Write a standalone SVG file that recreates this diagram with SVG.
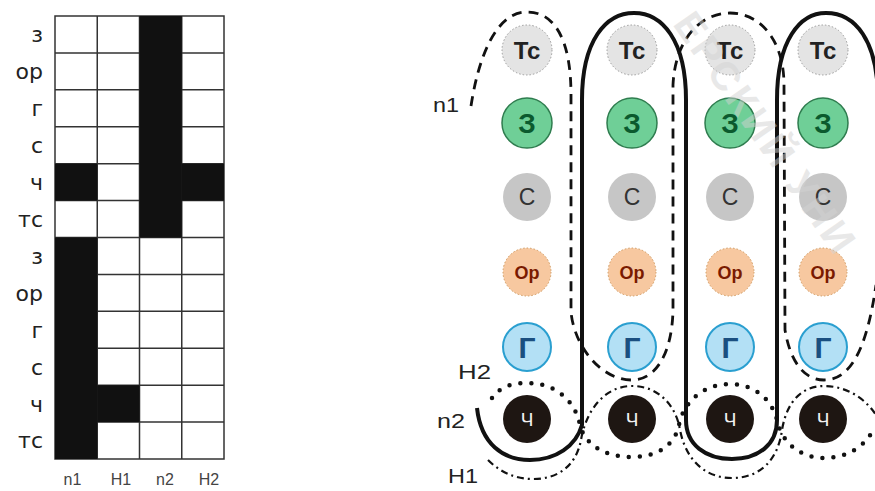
<svg xmlns="http://www.w3.org/2000/svg" width="875" height="491" viewBox="0 0 875 491">
<defs>
<style>
.lbl{font-family:"DejaVu Sans",sans-serif;font-size:22px;fill:#222;text-anchor:end}
.blbl{font-family:"Liberation Sans",Arial,sans-serif;font-size:16px;fill:#444;text-anchor:middle}
.rlbl{font-family:"Liberation Sans",Arial,sans-serif;font-size:21px;fill:#222}
.grid{stroke:#333;stroke-width:1.5;fill:none}
.blk{fill:#111}
.t{font-family:"Liberation Sans",Arial,sans-serif;text-anchor:middle}
.tc circle{fill:#e4e4e4;stroke:#9a9a9a;stroke-width:1;stroke-dasharray:1.5 2}
.tc text{font-size:24px;font-weight:bold;fill:#222}
.z circle{fill:#6fcf97;stroke:#2f7d4f;stroke-width:1.5}
.z text{font-size:28px;font-weight:bold;fill:#0b5a2e}
.s circle{fill:#c6c6c6}
.s text{font-size:23px;fill:#333}
.op circle{fill:#f7c8a0;stroke:#d09a60;stroke-width:1;stroke-dasharray:1.5 2}
.op text{font-size:18px;font-weight:bold;fill:#7a1a00}
.g circle{fill:#b3e0f5;stroke:#2a9fd0;stroke-width:2}
.g text{font-size:30px;font-weight:bold;fill:#1a4f80}
.ch circle{fill:#1e1612}
.ch text{font-size:19px;fill:#f2f2f2}
.n1{fill:none;stroke:#111;stroke-width:2.8;stroke-dasharray:10 7}
.n2{fill:none;stroke:#111;stroke-width:4}
.h2{fill:none;stroke:#111;stroke-width:4.5;stroke-dasharray:0 11;stroke-linecap:round}
.h1{fill:none;stroke:#111;stroke-width:2.2;stroke-dasharray:7 4 2 4}
</style>
</defs>
<rect width="875" height="491" fill="#fff"/>
<g id="table">
<g class="grid">
<rect x="55" y="16" width="169" height="443"/>
<path d="M97.25 16V459M139.5 16V459M181.75 16V459"/>
<path d="M55 52.9H224M55 89.8H224M55 126.8H224M55 163.7H224M55 200.6H224M55 237.5H224M55 274.4H224M55 311.3H224M55 348.2H224M55 385.2H224M55 422.1H224"/>
</g>
<rect class="blk" x="139.5" y="16" width="42.25" height="221.5"/>
<rect class="blk" x="55" y="163.7" width="42.25" height="36.9"/>
<rect class="blk" x="181.75" y="163.7" width="42.25" height="36.9"/>
<rect class="blk" x="55" y="237.5" width="42.25" height="221.5"/>
<rect class="blk" x="97.25" y="385.2" width="42.25" height="36.9"/>
<text class="lbl" x="43" y="42">з</text>
<text class="lbl" x="43" y="79">ор</text>
<text class="lbl" x="43" y="116">г</text>
<text class="lbl" x="43" y="153">с</text>
<text class="lbl" x="43" y="190">ч</text>
<text class="lbl" x="43" y="227">тс</text>
<text class="lbl" x="43" y="264">з</text>
<text class="lbl" x="43" y="301">ор</text>
<text class="lbl" x="43" y="338">г</text>
<text class="lbl" x="43" y="375">с</text>
<text class="lbl" x="43" y="412">ч</text>
<text class="lbl" x="43" y="448">тс</text>
<text class="blbl" x="72.5" y="485">n1</text>
<text class="blbl" x="121" y="485">H1</text>
<text class="blbl" x="165" y="485">n2</text>
<text class="blbl" x="209" y="485">H2</text>
</g>
<g id="col1" class="t">
<g id="tc1" class="tc"><circle cx="527" cy="50" r="25"/><text x="527" y="58.5">Тс</text></g>
<g id="z1" class="z"><circle cx="527" cy="123" r="25"/><text x="527" y="133">З</text></g>
<g id="s1" class="s"><circle cx="527" cy="197" r="24"/><text x="527" y="205">С</text></g>
<g id="op1" class="op"><circle cx="527" cy="272" r="24"/><text x="527" y="278.5">Ор</text></g>
<g id="g1" class="g"><circle cx="527" cy="347" r="24"/><text x="527" y="358">Г</text></g>
<g id="ch1" class="ch"><circle cx="527" cy="419" r="24"/><text x="527" y="426">Ч</text></g>
</g>
<g id="col2" class="t">
<g id="tc2" class="tc"><circle cx="632" cy="50" r="25"/><text x="632" y="58.5">Тс</text></g>
<g id="z2" class="z"><circle cx="632" cy="123" r="25"/><text x="632" y="133">З</text></g>
<g id="s2" class="s"><circle cx="632" cy="197" r="24"/><text x="632" y="205">С</text></g>
<g id="op2" class="op"><circle cx="632" cy="272" r="24"/><text x="632" y="278.5">Ор</text></g>
<g id="g2" class="g"><circle cx="632" cy="347" r="24"/><text x="632" y="358">Г</text></g>
<g id="ch2" class="ch"><circle cx="632" cy="419" r="24"/><text x="632" y="426">Ч</text></g>
</g>
<g id="col3" class="t">
<g id="tc3" class="tc"><circle cx="730" cy="50" r="25"/><text x="730" y="58.5">Тс</text></g>
<g id="z3" class="z"><circle cx="730" cy="123" r="25"/><text x="730" y="133">З</text></g>
<g id="s3" class="s"><circle cx="730" cy="197" r="24"/><text x="730" y="205">С</text></g>
<g id="op3" class="op"><circle cx="730" cy="272" r="24"/><text x="730" y="278.5">Ор</text></g>
<g id="g3" class="g"><circle cx="730" cy="347" r="24"/><text x="730" y="358">Г</text></g>
<g id="ch3" class="ch"><circle cx="730" cy="419" r="24"/><text x="730" y="426">Ч</text></g>
</g>
<g id="col4" class="t">
<g id="tc4" class="tc"><circle cx="823" cy="50" r="25"/><text x="823" y="58.5">Тс</text></g>
<g id="z4" class="z"><circle cx="823" cy="123" r="25"/><text x="823" y="133">З</text></g>
<g id="s4" class="s"><circle cx="823" cy="197" r="24"/><text x="823" y="205">С</text></g>
<g id="op4" class="op"><circle cx="823" cy="272" r="24"/><text x="823" y="278.5">Ор</text></g>
<g id="g4" class="g"><circle cx="823" cy="347" r="24"/><text x="823" y="358">Г</text></g>
<g id="ch4" class="ch"><circle cx="823" cy="419" r="24"/><text x="823" y="426">Ч</text></g>
</g>
<g id="connectors">
<path class="n1" d="M471,106 C478,60 495,12 527,12 C555,12 571,40 571,95 L571,312 C574,345 600,380 632,380 C655,380 672,355 673,310 L673,85 C675,40 700,13 730,13 C760,13 784,40 784,85 L785,330 C790,360 803,380 824,380 C848,380 866,355 876,285"/>
<path class="n2" d="M477,408 C481,444 503,460 530,460 C556,460 576,446 582,425 L582,100 C582,40 606,13 634,13 C662,13 686,40 686,100 L686,420 C686,445 706,459 732,459 C758,459 777,445 777,420 L777,100 C777,40 800,13 826,13 C855,13 878,40 878,100 L878,440"/>
<path class="h2" d="M492,398 C500,386 514,383 527,383 C555,383 575,400 580,425 C585,445 605,457 632,457 C657,457 675,445 679,425 C684,400 705,384 730,384 C755,384 772,400 777,420 C782,445 803,458 824,458 C848,458 864,446 872,432"/>
<path class="h1" d="M488,460 C500,472 515,479 533,479 C558,479 576,466 581,440 C586,410 605,386 632,386 C658,386 676,405 680,430 C686,460 705,478 732,478 C760,478 778,460 782,430 C787,400 803,386 824,386 C846,386 866,398 878,418"/>
</g>
<g id="labels">
<text class="rlbl" x="433" y="112" textLength="26" lengthAdjust="spacingAndGlyphs">n1</text>
<text class="rlbl" x="458" y="379" textLength="33" lengthAdjust="spacingAndGlyphs">H2</text>
<text class="rlbl" x="437" y="428" textLength="28" lengthAdjust="spacingAndGlyphs">n2</text>
<text class="rlbl" x="448" y="483" textLength="30" lengthAdjust="spacingAndGlyphs">H1</text>
</g>
<text x="672" y="24" transform="rotate(55 672 24)" font-family="Liberation Sans, Arial, sans-serif" font-size="40" font-weight="bold" fill="#d2d2d2" fill-opacity="0.5" letter-spacing="3">ЕРСКИЙ УНИ</text>
</svg>
